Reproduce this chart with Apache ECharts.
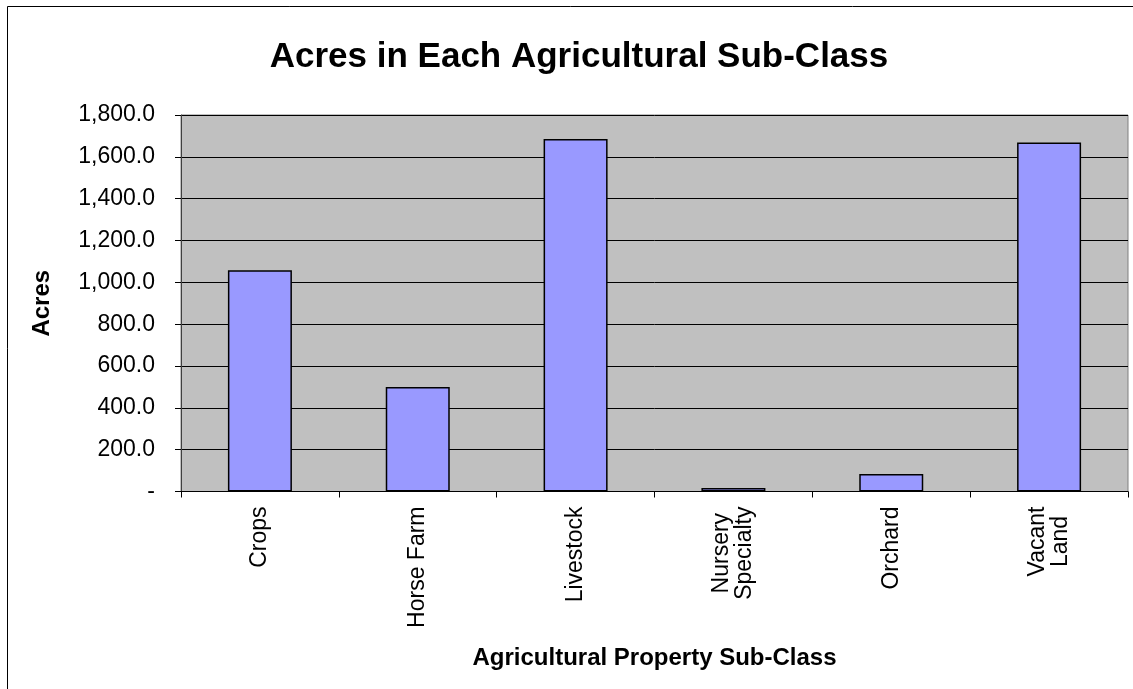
<!DOCTYPE html>
<html>
<head>
<meta charset="utf-8">
<title>Acres in Each Agricultural Sub-Class</title>
<script src="https://cdn.jsdelivr.net/npm/echarts@6/dist/echarts.min.js"></script>
<style>
  html, body { margin: 0; padding: 0; background: #ffffff; }
  #chart { width: 1133px; height: 689px; }
</style>
</head>
<body>
<div id="chart"></div>
<script>
// Agricultural sub-classes and their total acreage
const categories = ['Crops', 'Horse Farm', 'Livestock', 'Nursery\nSpecialty', 'Orchard', 'Vacant\nLand'];
const acres = [1058, 500, 1685, 17, 84, 1668];
const yTicks = { min: 0, max: 1800, interval: 200 };

const FONT = '"Liberation Sans", Arial, sans-serif';

function fmtAcres(v) {
  if (v === 0) return '-';
  return v.toLocaleString('en-US', { minimumFractionDigits: 1, maximumFractionDigits: 1 });
}

// Two-line category names: centre each line within the label block
function fmtCategory(name) {
  return name.split('\n').map(line => '{c|' + line + '}').join('\n');
}

const chart = echarts.init(document.getElementById('chart'), null, { renderer: 'canvas' });

chart.setOption({
  animation: false,
  backgroundColor: '#ffffff',
  title: {
    text: 'Acres in Each Agricultural Sub-Class',
    left: 574,
    textAlign: 'center',
    top: 35,
    textStyle: { fontFamily: FONT, fontSize: 35, fontWeight: 'bold', color: '#000' }
  },
  graphic: [{
    type: 'rect',
    shape: { x: 7.5, y: 6.5, width: 1140, height: 700 },
    style: { fill: 'none', stroke: '#000', lineWidth: 1 },
    z: -1
  }],
  grid: {
    left: 181, top: 115, right: 5, bottom: 197.5,
    show: true, backgroundColor: '#C0C0C0', borderColor: '#808080', borderWidth: 1
  },
  xAxis: {
    type: 'category',
    data: categories,
    name: 'Agricultural Property Sub-Class',
    nameLocation: 'middle',
    nameGap: 155,
    nameTextStyle: { fontFamily: FONT, fontSize: 24, fontWeight: 'bold', color: '#000' },
    axisLine: { show: true, lineStyle: { color: '#000', width: 1 } },
    axisTick: { show: true, inside: false, length: 6, alignWithLabel: false, lineStyle: { color: '#000' } },
    axisLabel: {
      rotate: 90, margin: 15, interval: 0,
      fontFamily: FONT, fontSize: 23, color: '#000', lineHeight: 23,
      formatter: fmtCategory,
      rich: { c: { align: 'center', fontFamily: FONT, fontSize: 23, color: '#000', lineHeight: 23 } }
    },
    splitLine: { show: false }
  },
  yAxis: {
    type: 'value',
    min: yTicks.min, max: yTicks.max, interval: yTicks.interval,
    name: 'Acres',
    nameLocation: 'middle',
    nameGap: 127,
    nameRotate: 90,
    nameTextStyle: { fontFamily: FONT, fontSize: 24, fontWeight: 'bold', color: '#000' },
    axisLine: { show: true, lineStyle: { color: '#404040', width: 1 } },
    axisTick: { show: true, inside: false, length: 6, lineStyle: { color: '#000' } },
    axisLabel: {
      margin: 26, fontFamily: FONT, fontSize: 23, color: '#000',
      formatter: fmtAcres
    },
    splitLine: { show: true, lineStyle: { color: '#000', width: 1 } }
  },
  series: [{
    type: 'bar',
    data: acres,
    barWidth: 64,
    itemStyle: { color: '#9999FF', borderColor: '#000', borderWidth: 1.5 }
  }]
});
</script>
</body>
</html>
